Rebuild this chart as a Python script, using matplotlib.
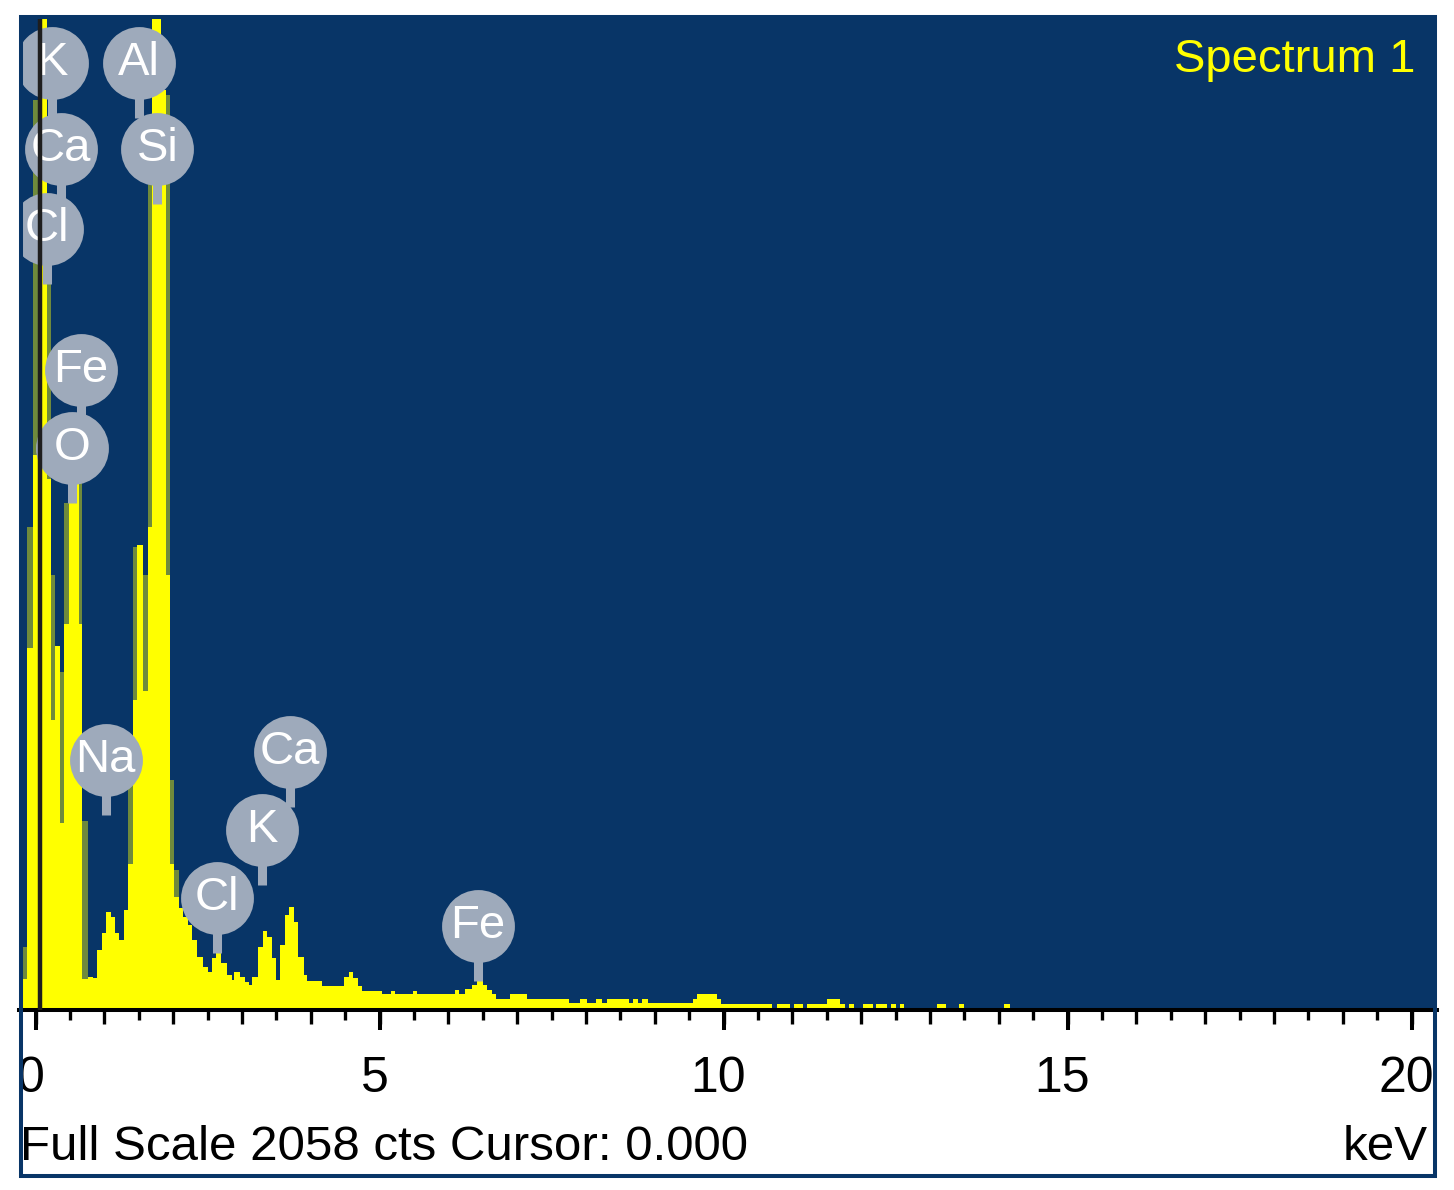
import numpy as np
import matplotlib.pyplot as plt
from matplotlib.ticker import MultipleLocator
from matplotlib.transforms import Bbox, TransformedBbox, blended_transform_factory, ScaledTranslation
from matplotlib.patches import Rectangle

plt.rcParams['font.family'] = ['Liberation Sans', 'DejaVu Sans']

# spectrum: step start (keV) and counts in that step
step_kev = [-0.25, -0.18, -0.12, -0.04, 0.03, 0.16, 0.23, 0.29, 0.36, 0.42,
            0.49, 0.63, 0.68, 0.76, 0.83, 0.90, 0.97, 1.03, 1.10, 1.16,
            1.22, 1.29, 1.35, 1.41, 1.48, 1.56, 1.63, 1.70, 1.83, 1.90,
            1.96, 2.02, 2.09, 2.15, 2.22, 2.28, 2.35, 2.43, 2.50, 2.57,
            2.63, 2.70, 2.78, 2.85, 2.89, 2.97, 3.04, 3.10, 3.15, 3.23,
            3.30, 3.36, 3.43, 3.50, 3.56, 3.63, 3.69, 3.76, 3.82, 3.90,
            3.95, 4.17, 4.49, 4.56, 4.62, 4.68, 4.75, 5.03, 5.16, 5.22,
            5.48, 5.55, 6.09, 6.16, 6.24, 6.35, 6.42, 6.50, 6.56, 6.63,
            6.70, 6.89, 7.15, 7.76, 7.91, 8.01, 8.15, 8.23, 8.30, 8.62,
            8.68, 8.75, 8.82, 8.90, 9.55, 9.62, 9.90, 9.97, 10.70, 10.77,
            10.96, 11.03, 11.16, 11.22, 11.50, 11.69, 11.76, 11.83, 11.89, 12.02,
            12.17, 12.22, 12.37, 12.43, 12.50, 12.56, 12.63, 13.10, 13.23, 13.42,
            13.49, 14.08, 14.16]
step_counts = [0, 60, 750, 1150, 2400, 1100, 600, 753, 385, 800,
               1140, 800, 60, 64, 62, 121, 156, 200, 189, 156,
               141, 204, 300, 640, 963, 660, 1000, 2400, 1910, 900,
               300, 230, 208, 190, 172, 141, 106, 85, 75, 104,
               114, 94, 69, 58, 75, 65, 54, 48, 65, 127,
               160, 148, 104, 58, 131, 194, 210, 179, 106, 69,
               56, 46, 65, 75, 62, 46, 36, 29, 36, 29,
               36, 29, 37, 29, 40, 48, 56, 48, 37, 29,
               19, 29, 19, 10, 19, 10, 19, 10, 19, 10,
               19, 10, 19, 10, 19, 29, 19, 8, 0, 8,
               0, 8, 0, 8, 19, 8, 0, 8, 0, 8,
               0, 8, 0, 8, 0, 8, 0, 8, 0, 8,
               0, 8, 0]
spectrum_end_kev = 20.4

# thin sub-channel spikes that show up dimmed
spike_lo = [-0.18, -0.12, -0.04, 0.16, 0.23, 0.36, 0.42, 0.63, 0.68, 1.35, 1.41, 1.56, 1.63, 1.90, 1.96, 2.02]
spike_hi = [-0.12, -0.04, 0.03, 0.23, 0.29, 0.42, 0.49, 0.68, 0.76, 1.41, 1.48, 1.63, 1.70, 1.96, 2.02, 2.09]
spike_counts = [127, 1000, 1890, 1507, 900, 700, 1050, 1099, 390, 500, 960, 900, 1715, 1900, 475, 287]

# element markers: symbol, energy (keV) and height of the marker (counts)
marker_names = ['K', 'Ca', 'Cl', 'Al', 'Si', 'Fe', 'O', 'Na', 'Ca', 'K', 'Cl', 'Fe']
marker_kev = [0.24, 0.37, 0.17, 1.50, 1.77, 0.66, 0.53, 1.02, 3.70, 3.29, 2.64, 6.43]
marker_level = [1967, 1788, 1621, 1967, 1788, 1328, 1165, 516, 533, 370, 229, 171]

tick_values = [0, 5, 10, 15, 20]
tick_labels = ['0', '5', '10', '15', '20']
full_scale = 2058
cursor_kev = 0.06

bg = '#083567'
yellow = '#ffff00'
olive = '#6f8a3c'
grey = '#9eaabb'

W, H = 1454, 1190
fig = plt.figure(figsize=(W / 100, H / 100), dpi=100)
fig.patch.set_facecolor('white')


def fx(px):
    return px / W


def fy(py):
    return 1 - py / H


ax = fig.add_axes([fx(19), fy(1010), fx(1437) - fx(19), fy(17) - fy(1010)])
ax.set_facecolor(bg)
ax.set_xlim(-0.24, 20.37)
ax.set_ylim(-4.2, 2062)

# spectrum
ax.bar(spike_lo, spike_counts, width=np.subtract(spike_hi, spike_lo), align='edge',
       color=olive, linewidth=0, zorder=1.5)
x = step_kev + [spectrum_end_kev]
y = step_counts + [step_counts[-1]]
ax.fill_between(x, y, step='post', color=yellow, linewidth=0, zorder=2)

# element markers
px_to_counts = (ax.get_ylim()[1] - ax.get_ylim()[0]) / (1010 - 17)
stem = 55 * px_to_counts
for name, e, lev in zip(marker_names, marker_kev, marker_level):
    ax.plot([e, e], [lev, lev - stem], color=grey, linewidth=6.5, solid_capstyle='butt', zorder=4)
    ax.scatter([e], [lev], s=2750, color=grey, linewidth=0, zorder=4.5)
    ax.text(e, lev, name, color='white', fontsize=34, ha='center', va='center', zorder=5)

ax.axvline(cursor_kev, color='#1e1e1e', linewidth=3.2, zorder=6)

ax.text(0.9845, (1010 - 72) / 993, 'Spectrum 1', transform=ax.transAxes, color=yellow, fontsize=34,
        ha='right', va='baseline', zorder=5)

# axis
for side in ['top', 'left', 'right']:
    ax.spines[side].set_visible(False)
ax.spines['bottom'].set_linewidth(2.9)
ax.spines['bottom'].set_color('black')
ax.set_yticks([])
ax.xaxis.set_major_locator(MultipleLocator(1))
ax.xaxis.set_minor_locator(MultipleLocator(0.5))
ax.tick_params(axis='x', which='major', direction='out', length=10, width=2.4, color='black',
               labelbottom=False)
ax.tick_params(axis='x', which='minor', direction='out', length=7.2, width=2.4, color='black')

sec = ax.secondary_xaxis('bottom')
sec.set_xticks(tick_values)
sec.tick_params(length=14.4, width=2.9, color='black', labelbottom=False)
sec.spines['bottom'].set_visible(False)

# white panel under the plot, clipped by the frame
clip = TransformedBbox(Bbox.from_extents(fx(23), fy(1174), fx(1433), fy(1012)), fig.transFigure)
trans = blended_transform_factory(ax.transData, fig.transFigure) + ScaledTranslation(-0.05, 0, fig.dpi_scale_trans)
for v, lab in zip(tick_values, tick_labels):
    t = fig.text(v, fy(1092), lab, transform=trans, fontsize=36, ha='center', va='baseline')
    t.set_clip_box(clip)
    t.set_clip_on(True)

t = fig.text(fx(20), fy(1160), f'Full Scale {full_scale} cts Cursor: {0:.3f}', fontsize=35.5,
             ha='left', va='baseline')
t.set_clip_box(clip)
t.set_clip_on(True)
fig.text(fx(1428), fy(1160), 'keV', fontsize=35.5, ha='right', va='baseline')

frame = Rectangle((fx(21), fy(1176)), fx(1435) - fx(21), fy(17) - fy(1176), transform=fig.transFigure,
                  facecolor='none', edgecolor=bg, linewidth=2.9, zorder=10)
fig.patches.append(frame)

plt.savefig('out.png', dpi=100)
